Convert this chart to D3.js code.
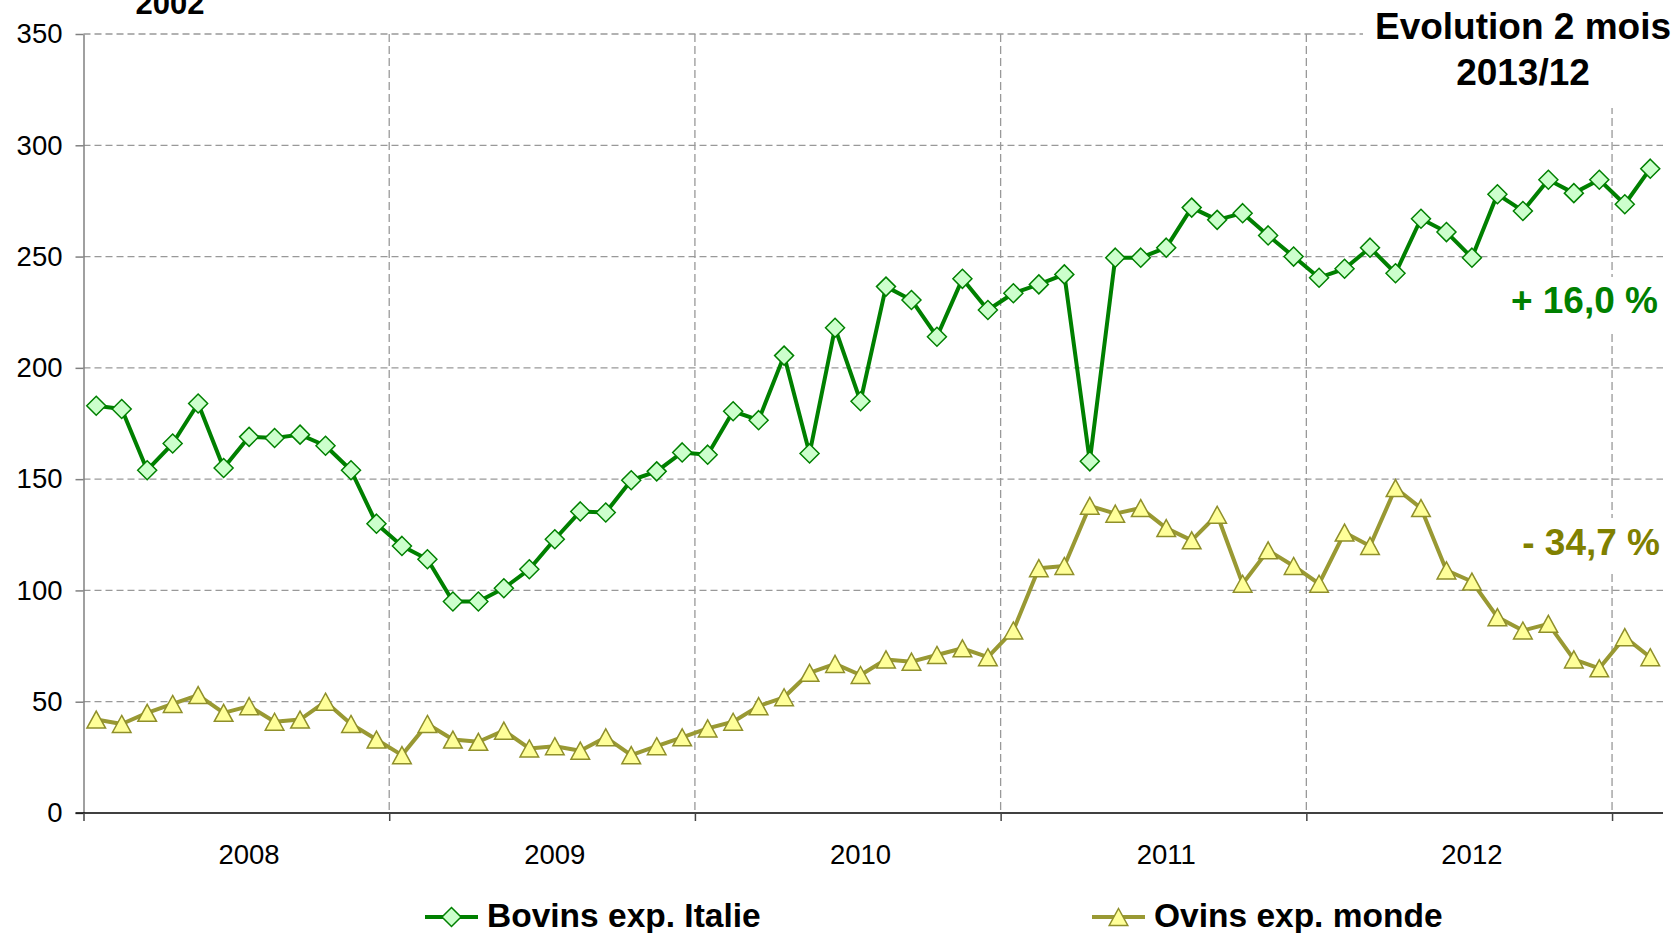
<!DOCTYPE html>
<html>
<head>
<meta charset="utf-8">
<script src="https://cdn.jsdelivr.net/npm/d3@7"></script>
<style>
  html, body { margin: 0; padding: 0; background: #fff; }
  svg { display: block; font-family: "Liberation Sans", Arial, sans-serif; }
  .grid line { stroke: #999; stroke-width: 1.3; stroke-dasharray: 7,4; }
  .axis text { font-size: 27.5px; fill: #000; }
</style>
</head>
<body>
<svg id="chart" width="1677" height="933"></svg>
<script>
(function () {
  const yearLabels = ["2008", "2009", "2010", "2011", "2012"];
  const monthsPerYear = 12;
  const yTicks = [0, 50, 100, 150, 200, 250, 300, 350];

  const bovins = [183, 181.5, 154, 166, 184, 155, 169, 168.5, 170, 165, 154, 130,
                  120, 114, 95, 95, 101, 109.5, 123, 135.5, 135, 149.5, 153.5, 162,
                  161, 180.5, 176.5, 205.5, 161.5, 218, 185, 236.5, 230.5, 214, 240, 226,
                  233.5, 237.5, 242, 158, 249.5, 249.5, 254, 272, 266.5, 269.5, 259.5, 250,
                  240.5, 244.5, 254, 242.5, 267, 261, 249.5, 278, 270.5, 284.5, 278.5, 284.5,
                  273.5, 289.5];
  const ovins = [42, 40, 45, 49, 53, 45, 48, 41, 42, 50, 40, 33,
                 26, 40, 33, 32, 37, 29, 30, 28, 34, 26, 30, 34,
                 38, 41, 48, 52, 63, 67, 62, 69, 68, 71, 74, 70,
                 82, 110, 111, 138, 134.5, 137, 128, 122.5, 134, 103, 118, 111,
                 103, 126, 120, 146, 137, 109, 104, 88, 82, 85, 69, 65,
                 79, 70];

  const series = [
    { name: "Bovins exp. Italie", values: bovins, stroke: "#008000", markerStroke: "#008000", fill: "#ccffcc", marker: "diamond", legendX: 425 },
    { name: "Ovins exp. monde", values: ovins, stroke: "#999933", markerStroke: "#8f8f2a", fill: "#ffff99", marker: "triangle", legendX: 1092 }
  ];

  const left = 83.5, right = 1663, top = 34, bottom = 813;
  const n = bovins.length;

  const svg = d3.select("#chart");
  const x = d3.scaleLinear().domain([0, n]).range([left, right]);
  const y = d3.scaleLinear().domain([0, 350]).range([bottom, top]);

  const boundaries = d3.range(0, n, monthsPerYear);

  // gridlines
  svg.append("g").attr("class", "grid")
    .selectAll("line").data(yTicks.filter(d => d > 0)).join("line")
    .attr("x1", left).attr("x2", right)
    .attr("y1", d => y(d)).attr("y2", d => y(d));
  svg.append("g").attr("class", "grid")
    .selectAll("line").data(boundaries.filter(d => d > 0)).join("line")
    .attr("x1", d => x(d)).attr("x2", d => x(d))
    .attr("y1", top).attr("y2", bottom)
    .style("stroke-dasharray", "8,4");

  // axes
  const yAxis = svg.append("g").attr("class", "axis")
    .attr("transform", `translate(${left},0)`)
    .call(d3.axisLeft(y).tickValues(yTicks).tickSize(8).tickPadding(13).tickSizeOuter(0));
  yAxis.select(".domain").attr("stroke", "#808080").attr("stroke-width", 1.5);
  yAxis.selectAll(".tick line").attr("stroke", "#808080").attr("stroke-width", 1.5);

  const xAxis = svg.append("g").attr("class", "axis")
    .attr("transform", `translate(0,${bottom})`)
    .call(d3.axisBottom(x).tickValues(boundaries).tickSize(8).tickFormat("").tickSizeOuter(0));
  xAxis.select(".domain").attr("stroke", "#000").attr("stroke-width", 1.5)
    .attr("d", `M${left - 8},0H${right}`);
  xAxis.selectAll(".tick line").attr("stroke", "#444").attr("stroke-width", 1.5);

  svg.append("g").attr("class", "axis")
    .selectAll("text").data(yearLabels).join("text")
    .attr("x", (d, i) => x(i * monthsPerYear + 6.5))
    .attr("y", 864)
    .attr("text-anchor", "middle")
    .text(d => d);

  // markers
  const markerPath = {
    diamond: "M0,-9.5L9.5,0L0,9.5L-9.5,0Z",
    triangle: "M0,-8.5L9.3,8.5L-9.3,8.5Z"
  };

  const line = d3.line().x((d, i) => x(i + 0.5)).y(d => y(d));

  series.forEach(s => {
    const g = svg.append("g");
    g.append("path").datum(s.values)
      .attr("d", line)
      .attr("fill", "none")
      .attr("stroke", s.stroke)
      .attr("stroke-width", 4)
      .attr("stroke-linejoin", "round");
    g.selectAll(".pt").data(s.values).join("path")
      .attr("class", "pt")
      .attr("transform", (d, i) => `translate(${x(i + 0.5)},${y(d)})`)
      .attr("d", markerPath[s.marker])
      .attr("fill", s.fill)
      .attr("stroke", s.markerStroke)
      .attr("stroke-width", 1.5);
  });

  // text boxes
  svg.append("rect").attr("x", 1363).attr("y", 0).attr("width", 314).attr("height", 108).attr("fill", "#fff");
  svg.append("text").attr("x", 1523).attr("y", 39).attr("text-anchor", "middle")
    .attr("font-size", 37).attr("font-weight", "bold").text("Evolution 2 mois");
  svg.append("text").attr("x", 1523).attr("y", 85).attr("text-anchor", "middle")
    .attr("font-size", 37).attr("font-weight", "bold").text("2013/12");

  svg.append("text").attr("x", 170).attr("y", 14).attr("text-anchor", "middle")
    .attr("font-size", 31).attr("font-weight", "bold").text("2002");

  svg.append("rect").attr("x", 1500).attr("y", 277).attr("width", 170).attr("height", 55).attr("fill", "#fff");
  svg.append("text").attr("x", 1658).attr("y", 313).attr("text-anchor", "end")
    .attr("font-size", 37).attr("font-weight", "bold").attr("fill", "#008000").text("+ 16,0 %");

  svg.append("rect").attr("x", 1512).attr("y", 518).attr("width", 160).attr("height", 55).attr("fill", "#fff");
  svg.append("text").attr("x", 1660).attr("y", 555).attr("text-anchor", "end")
    .attr("font-size", 37).attr("font-weight", "bold").attr("fill", "#808000").text("- 34,7 %");

  // legend
  const legendY = 917;
  series.forEach(s => {
    const lg = svg.append("g");
    lg.append("line").attr("x1", s.legendX).attr("x2", s.legendX + 53)
      .attr("y1", legendY).attr("y2", legendY)
      .attr("stroke", s.stroke).attr("stroke-width", 4);
    lg.append("path").attr("transform", `translate(${s.legendX + 26.5},${legendY})`)
      .attr("d", markerPath[s.marker])
      .attr("fill", s.fill).attr("stroke", s.markerStroke).attr("stroke-width", 1.5);
    lg.append("text").attr("x", s.legendX + 62).attr("y", 927)
      .attr("font-size", 33.5).attr("font-weight", "bold").text(s.name);
  });
})();
</script>
</body>
</html>
